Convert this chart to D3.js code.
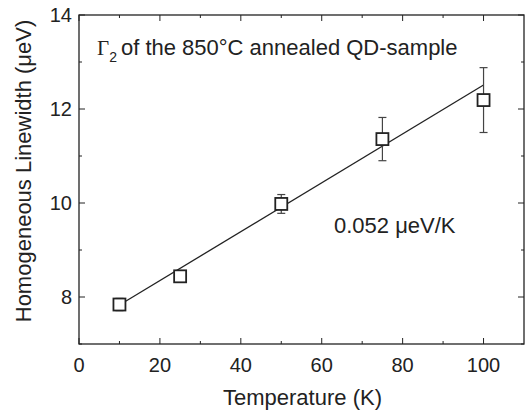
<!DOCTYPE html>
<html lang="en">
<head>
<meta charset="UTF-8">
<script src="https://d3js.org/d3.v7.min.js"></script>
<style>
  html, body { margin: 0; padding: 0; background: #fff; }
  svg text { font-family: "Liberation Sans", Arial, sans-serif; fill: #222; }
</style>
</head>
<body>
<svg id="chart" width="526" height="414"></svg>
<script>
// measured linewidths
const temps = [10, 25, 50, 75, 100];
const widths = [7.84, 8.44, 9.98, 11.36, 12.19];
const errs = [0.13, 0.07, 0.2, 0.46, 0.69];
// linear fit, 0.052 ueV/K
const fitT = [10, 100];
const fitW = [7.83, 12.51];
const xTicks = [0, 20, 40, 60, 80, 100];
const yTicks = [8, 10, 12, 14];

const margin = {left: 79, right: 2, top: 15, bottom: 70};
const W = 526, H = 414;
const svg = d3.select("#chart");

const x = d3.scaleLinear().domain([0, 110]).range([margin.left, W - margin.right]);
const y = d3.scaleLinear().domain([7, 14]).range([H - margin.bottom, margin.top]);

const g = svg.append("g");

// frame
g.append("rect")
  .attr("x", x(0)).attr("y", y(14))
  .attr("width", x(110) - x(0)).attr("height", y(7) - y(14))
  .attr("fill", "none").attr("stroke", "#222").attr("stroke-width", 1.3);

// ticks inward on all four sides
const xMinor = d3.range(10, 110, 20);
const yMinor = d3.range(7, 14, 2);
function xt(vals, len) {
  vals.forEach(v => {
    g.append("line").attr("x1", x(v)).attr("x2", x(v))
      .attr("y1", y(7)).attr("y2", y(7) - len).attr("stroke", "#222");
    g.append("line").attr("x1", x(v)).attr("x2", x(v))
      .attr("y1", y(14)).attr("y2", y(14) + len).attr("stroke", "#222");
  });
}
function yt(vals, len) {
  vals.forEach(v => {
    g.append("line").attr("y1", y(v)).attr("y2", y(v))
      .attr("x1", x(0)).attr("x2", x(0) + len).attr("stroke", "#222");
    g.append("line").attr("y1", y(v)).attr("y2", y(v))
      .attr("x1", x(110)).attr("x2", x(110) - len).attr("stroke", "#222");
  });
}
xt(xTicks, 6); xt(xMinor, 3);
yt(yTicks, 6); yt(yMinor, 3);

g.selectAll(".xl").data(xTicks).join("text")
  .attr("x", d => x(d)).attr("y", y(7) + 28)
  .attr("text-anchor", "middle").attr("font-size", 20).text(d => d);
g.selectAll(".yl").data(yTicks).join("text")
  .attr("x", x(0) - 7).attr("y", d => y(d) + 7)
  .attr("text-anchor", "end").attr("font-size", 20).text(d => d);

// fit line
const line = d3.line().x((d, i) => x(fitT[i])).y(d => y(d));
g.append("path").datum(fitW).attr("d", line)
  .attr("fill", "none").attr("stroke", "#222").attr("stroke-width", 1.3);

// error bars
temps.forEach((t, i) => {
  const c = "#444";
  g.append("line").attr("x1", x(t)).attr("x2", x(t))
    .attr("y1", y(widths[i] - errs[i])).attr("y2", y(widths[i] + errs[i]))
    .attr("stroke", c).attr("stroke-width", 1.2);
  [widths[i] - errs[i], widths[i] + errs[i]].forEach(v => {
    g.append("line").attr("x1", x(t) - 4).attr("x2", x(t) + 4)
      .attr("y1", y(v)).attr("y2", y(v)).attr("stroke", c).attr("stroke-width", 1.2);
  });
});

// markers
g.selectAll(".pt").data(temps).join("rect")
  .attr("x", d => x(d) - 6).attr("y", (d, i) => y(widths[i]) - 6)
  .attr("width", 12).attr("height", 12)
  .attr("fill", "#fff").attr("stroke", "#222").attr("stroke-width", 1.8);

// annotations
const t1 = g.append("text").attr("x", 97).attr("y", 55).attr("font-size", 22);
t1.append("tspan").attr("font-family", "Liberation Serif, serif").attr("font-size", 21).text("Γ");
t1.append("tspan").attr("font-size", 14).attr("dy", 7).text("2");
t1.append("tspan").attr("dy", -7).attr("dx", 4).text("of the 850°C annealed QD-sample");

g.append("text").attr("x", 334).attr("y", 233).attr("font-size", 22).text("0.052 μeV/K");

// axis titles
g.append("text").attr("x", x(55) + 1).attr("y", 405)
  .attr("text-anchor", "middle").attr("font-size", 22).text("Temperature (K)");
g.append("text")
  .attr("transform", `translate(31,171) rotate(-90)`)
  .attr("text-anchor", "middle").attr("font-size", 22).text("Homogeneous Linewidth (μeV)");
</script>
</body>
</html>
